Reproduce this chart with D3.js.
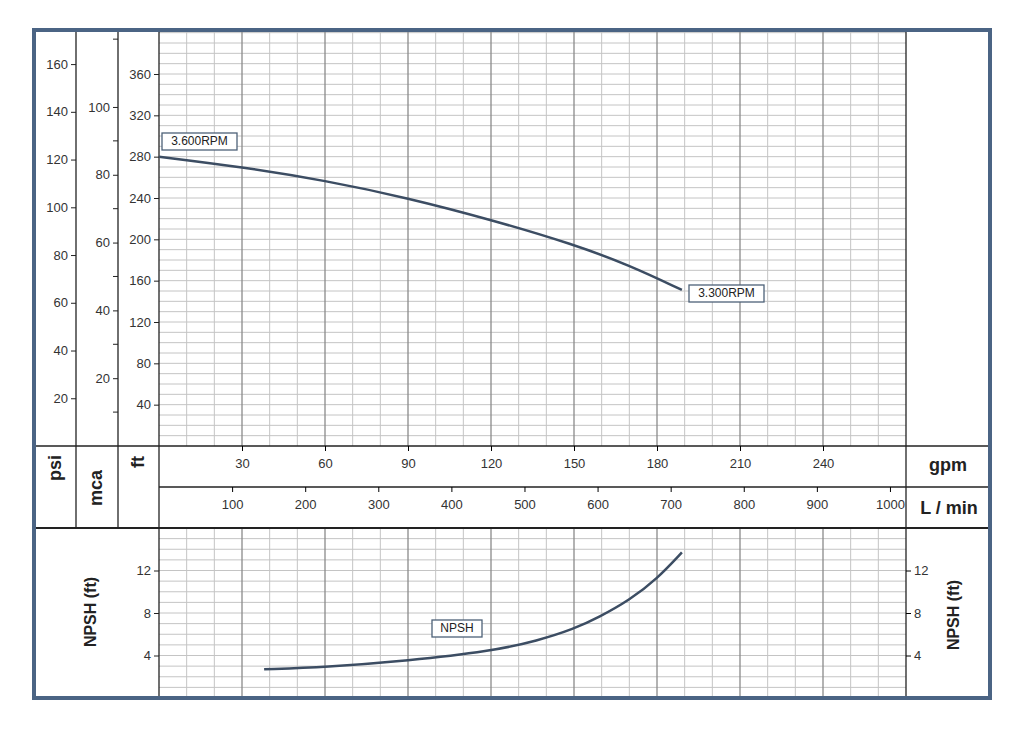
<!DOCTYPE html>
<html><head><meta charset="utf-8">
<script src="https://cdn.jsdelivr.net/npm/d3@7"></script>
<style>body{margin:0;background:#fff}svg{font-family:Arial,"Liberation Sans",sans-serif}</style>
</head><body><svg id="c" width="1024" height="742"></svg>
<script>
const headGpm = [0, 30, 60, 90, 120, 150, 170, 189];
const headFt  = [280, 270, 257, 240, 219, 195, 175, 151];
const npshGpm = [38, 60, 90, 120, 137, 150, 159, 170, 180, 189];
const npshFt  = [2.7, 2.9, 3.5, 4.4, 5.4, 6.5, 7.6, 9.2, 11.2, 13.7];
const gpmTicks = [30, 60, 90, 120, 150, 180, 210, 240];
const lminTicks = [100, 200, 300, 400, 500, 600, 700, 800, 900, 1000];
const ftTicks = [40, 80, 120, 160, 200, 240, 280, 320, 360];
const psiTicks = [20, 40, 60, 80, 100, 120, 140, 160];
const mcaTicks = [20, 40, 60, 80, 100];
const npshTicks = [4, 8, 12];

const svg = d3.select("#c");
const L = 159, R = 906, T = 32, B1 = 446, B2 = 528, B3 = 697;
const x = d3.scaleLinear().domain([0, 270]).range([L, R]);
const yFt = d3.scaleLinear().domain([0, 360]).range([B1, 74]);
const yN = d3.scaleLinear().domain([0, 16]).range([B3 + 1, B2]);
const ink = "#222";
const fmt = d3.format("d");

function grid(y0, y1, hvals, yscale) {
  const g = svg.append("g");
  g.selectAll(".h").data(hvals).join("line")
    .attr("x1", L).attr("x2", R).attr("y1", d => yscale(d)).attr("y2", d => yscale(d))
    .attr("stroke", "#c4c4c4").attr("stroke-width", 1);
  g.selectAll(".v").data(d3.range(10, 270, 10)).join("line")
    .attr("x1", d => x(d)).attr("x2", d => x(d)).attr("y1", y0).attr("y2", y1)
    .attr("stroke", d => d % 30 === 0 ? "#8a8a8a" : "#c4c4c4").attr("stroke-width", d => d % 30 === 0 ? 1.3 : 1);
}
grid(T, B1, d3.range(10, 401, 10).filter(d => yFt(d) > T), yFt);
grid(B2, B3, d3.range(1, 16, 1), yN);

const line = (x1, y1, x2, y2, w) => svg.append("line").attr("x1", x1).attr("y1", y1).attr("x2", x2).attr("y2", y2).attr("stroke", ink).attr("stroke-width", w || 1.3);
line(35, B1, 990, B1, 1.5);
line(L, 487, 990, 487, 1.3);
line(35, B2, 990, B2, 2);
line(76, T, 76, B2); line(118, T, 118, B2);
line(L, T, L, B3); line(R, T, R, B3);

function leftAxis(xpos, scale, ticks, minor) {
  const g = svg.append("g").attr("transform", `translate(${xpos},0)`);
  g.call(d3.axisLeft(scale).tickValues(ticks).tickFormat(fmt).tickSize(5).tickPadding(3));
  g.select(".domain").remove();
  g.selectAll("text").attr("font-size", 13).attr("fill", "#333");
  g.selectAll("line").attr("stroke", ink);
  if (minor) g.selectAll(".mn").data(minor).join("line").attr("x1", -5).attr("x2", 0)
    .attr("y1", d => scale(d)).attr("y2", d => scale(d)).attr("stroke", ink);
  return g;
}
const yPsi = d3.scaleLinear().domain([0, 1]).range([yFt(0), yFt(2.31)]);
const yMca = d3.scaleLinear().domain([0, 1]).range([yFt(0), yFt(3.281)]);
leftAxis(76, yPsi, psiTicks);
leftAxis(118, yMca, mcaTicks, [10, 30, 50, 70, 90, 120]);
leftAxis(L, yFt, ftTicks);
leftAxis(L, yN, npshTicks);
const gr = svg.append("g").attr("transform", `translate(${R},0)`).call(d3.axisRight(yN).tickValues(npshTicks).tickSize(5).tickPadding(3));
gr.select(".domain").remove(); gr.selectAll("text").attr("font-size", 13).attr("fill", "#333");

function botAxis(ypos, scale, ticks) {
  const g = svg.append("g").attr("transform", `translate(0,${ypos})`);
  g.call(d3.axisBottom(scale).tickValues(ticks).tickFormat(fmt).tickSize(5).tickPadding(8));
  g.select(".domain").remove();
  g.selectAll("text").attr("font-size", 13).attr("fill", "#333");
}
botAxis(B1, x, gpmTicks);
const xL = d3.scaleLinear().domain([0, 270 * 3.785]).range([L, R]);
botAxis(487, xL, lminTicks);

const lab = (t, cx, cy, rot, size) => svg.append("text").attr("transform", `translate(${cx},${cy}) rotate(${rot})`)
  .attr("text-anchor", "middle").attr("dominant-baseline", "middle").attr("font-weight", "bold").attr("font-size", size).attr("fill", ink).text(t);
lab("psi", 56, 468, -90, 18); lab("mca", 97, 488, -90, 18); lab("ft", 139, 462, -90, 18);
lab("gpm", 948, 466, 0, 18); lab("L / min", 949, 509, 0, 18);
lab("NPSH (ft)", 92, 612, -90, 16); lab("NPSH (ft)", 955, 615, -90, 16);

const curveColor = "#3c4d63";
svg.append("path").datum(headGpm.map((g, i) => [g, headFt[i]]))
  .attr("d", d3.line().x(d => x(d[0])).y(d => yFt(d[1])).curve(d3.curveBasis))
  .attr("fill", "none").attr("stroke", curveColor).attr("stroke-width", 2.5);
svg.append("path").datum(npshGpm.map((g, i) => [g, npshFt[i]]))
  .attr("d", d3.line().x(d => x(d[0])).y(d => yN(d[1])).curve(d3.curveBasis))
  .attr("fill", "none").attr("stroke", curveColor).attr("stroke-width", 2.5);

function box(t, x0, y0, w) {
  svg.append("rect").attr("x", x0).attr("y", y0).attr("width", w).attr("height", 17)
    .attr("fill", "#fff").attr("stroke", "#4d6178").attr("stroke-width", 1.3);
  svg.append("text").attr("x", x0 + w / 2).attr("y", y0 + 9).attr("text-anchor", "middle").attr("dominant-baseline", "middle")
    .attr("font-size", 12).attr("fill", "#222").text(t);
}
box("3.600RPM", 162, 133, 75);
box("3.300RPM", 689, 285, 75);
box("NPSH", 432, 620, 50);

svg.append("rect").attr("x", 34).attr("y", 30).attr("width", 956).attr("height", 668)
  .attr("fill", "none").attr("stroke", "#4b6484").attr("stroke-width", 4);
</script></body></html>
